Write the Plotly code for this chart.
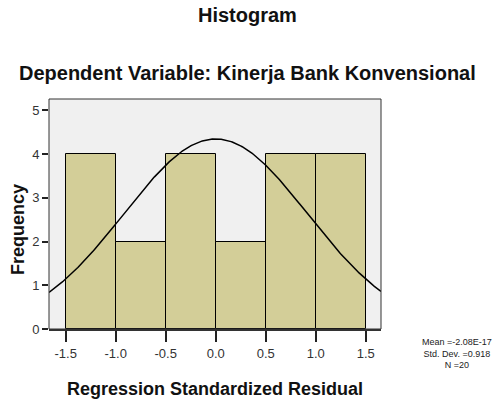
import numpy as np
import plotly.graph_objects as go

# Data
bin_left = [-1.5, -1.0, -0.5, 0.0, 0.5, 1.0]
bin_width = 0.5
counts = [4, 2, 4, 2, 4, 4]
mean_val = -2.08e-17
std_val = 0.918
n_val = 20
x_ticks = [-1.5, -1.0, -0.5, 0.0, 0.5, 1.0, 1.5]
x_tick_text = ["-1.5", "-1.0", "-0.5", "0.0", "0.5", "1.0", "1.5"]
y_ticks = [0, 1, 2, 3, 4, 5]

x_range = [-1.667, 1.653]
y_range = [0, 5.26]

centers = [b + bin_width / 2 for b in bin_left]

# Normal curve from reported statistics
xc = np.linspace(x_range[0], x_range[1], 300)
yc = n_val * bin_width / (std_val * np.sqrt(2 * np.pi)) * np.exp(-0.5 * ((xc - mean_val) / std_val) ** 2)

FONT = "Liberation Sans, Arial, sans-serif"

W, H = 494, 401
L, R, T, B = 49, 113, 99, 72
PW, PH = W - L - R, H - T - B


def px(xp):
    return (xp - L) / PW


def py(yp):
    return (H - B - yp) / PH


fig = go.Figure()
fig.add_trace(go.Bar(
    x=centers, y=counts, width=[bin_width] * len(counts),
    marker=dict(color="#d3ce98", line=dict(color="black", width=1)),
    hoverinfo="x+y",
))
fig.add_trace(go.Scatter(
    x=xc, y=yc, mode="lines",
    line=dict(color="black", width=1.5),
    hoverinfo="skip",
))

fig.update_layout(
    width=W, height=H,
    margin=dict(l=L, r=R, t=T, b=B, autoexpand=False),
    paper_bgcolor="white",
    plot_bgcolor="#f0f0f0",
    showlegend=False,
    bargap=0,
    font=dict(family=FONT, color="#222"),
    xaxis=dict(
        range=x_range, tickvals=x_ticks, ticktext=x_tick_text,
        showgrid=False, zeroline=False, automargin=False,
        showline=True, linecolor="#333", linewidth=2,
        ticks="outside", ticklen=11, tickwidth=1.5, tickcolor="#222",
        tickfont=dict(size=13, color="#333"),
    ),
    yaxis=dict(
        range=y_range, tickvals=y_ticks,
        showgrid=False, zeroline=False, automargin=False,
        showline=False,
        ticks="outside", ticklen=6, tickwidth=1.5, tickcolor="#222",
        tickfont=dict(size=13, color="#333"),
    ),
    shapes=[dict(type="rect", xref="paper", yref="paper", x0=0, y0=0, x1=1, y1=1,
                 line=dict(color="#333", width=1), layer="above")],
    annotations=[
        dict(text="<b>Histogram</b>", xref="paper", yref="paper", x=px(W / 2),
             y=py(15), showarrow=False, font=dict(size=20, color="#111"),
             xanchor="center", yanchor="middle"),
        dict(text="<b>Dependent Variable: Kinerja Bank Konvensional</b>", xref="paper", yref="paper",
             x=px(W / 2), y=py(73), showarrow=False,
             font=dict(size=20, color="#111"), xanchor="center", yanchor="middle"),
        dict(text="<b>Regression Standardized Residual</b>", xref="paper", yref="paper",
             x=0.5, y=py(389), showarrow=False,
             font=dict(size=18, color="#111"), xanchor="center", yanchor="middle"),
        dict(text="<b>Frequency</b>", xref="paper", yref="paper",
             x=px(18), y=py(230), showarrow=False, textangle=-90,
             font=dict(size=18, color="#111"), xanchor="center", yanchor="middle"),
        dict(text="Mean =-2.08E-17<br>Std. Dev. =0.918<br>N =20", xref="paper", yref="paper",
             x=px(457), y=py(353), showarrow=False, align="center",
             font=dict(size=9, color="#222"), xanchor="center", yanchor="middle"),
    ],
)

fig.write_html("out.html", config={"displayModeBar": False},
               post_script="document.body.style.margin='0';document.body.style.overflow='hidden';")
